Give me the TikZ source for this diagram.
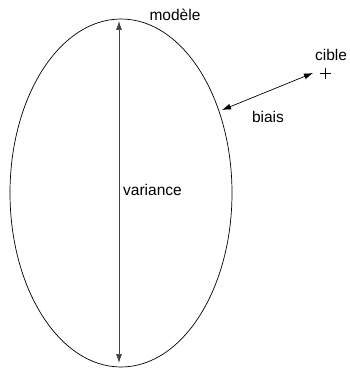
\documentclass[tikz,border=0pt]{standalone}
\usepackage{fontspec}
\setmainfont{Liberation Sans}
\usetikzlibrary{arrows.meta}

\begin{document}
\begin{tikzpicture}[x=1pt, y=-1pt]
% Bias / variance sketch
\providecommand{\bvLineWidth}{0.7pt}
\providecommand{\bvTextSize}{\fontsize{15.5}{18}\selectfont}
\tikzset{
  bvlabel/.style={font=\bvTextSize, inner sep=0pt},
  bvarrow/.style={line width=\bvLineWidth, {Latex[length=9pt,width=6pt]}-{Latex[length=9pt,width=6pt]}}
}
\useasboundingbox (0,0) rectangle (350,369);
\begin{scope}[line width=\bvLineWidth]
  % Spread of the model
  \draw (121,193) ellipse [x radius=111, y radius=174];
  \coordinate (top) at (119,21);
  \coordinate (bottom) at (119,363);
  \draw[bvarrow, black!75] (top) -- (bottom);
  % Target and offset
  \coordinate (target) at (325,73);
  \draw (target) +(-5.5,0) -- +(5.5,0) +(0,-5.5) -- +(0,5.5);
  \coordinate (hit) at (222,110);
  \coordinate (aim) at (313,73);
  \draw[bvarrow] (hit) -- (aim);
\end{scope}
% Labels
\node[bvlabel] (modele) at (175,15) {modèle};
\node[bvlabel, anchor=west] (variance) at (123,190) {variance};
\node[bvlabel] (biais) at (268,117) {biais};
\node[bvlabel] (cible) at (331,55) {cible};
\end{tikzpicture}
\end{document}
